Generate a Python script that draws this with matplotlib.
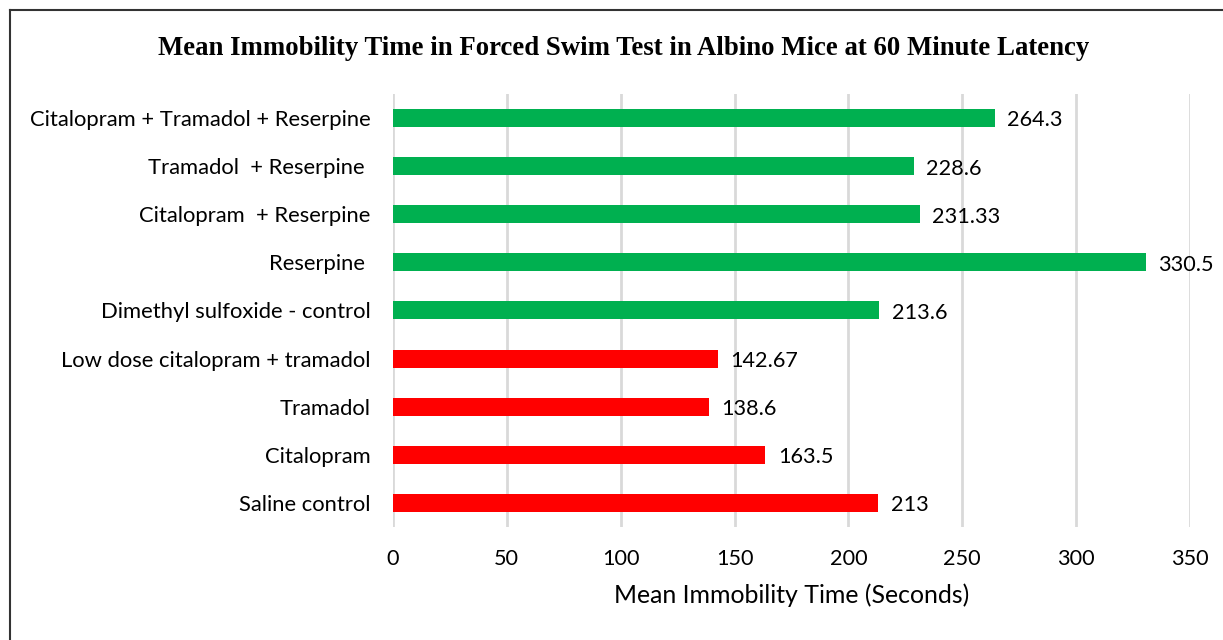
import matplotlib
matplotlib.use("Agg")
import matplotlib.pyplot as plt
from matplotlib.lines import Line2D

categories = [
    "Saline control",
    "Citalopram",
    "Tramadol",
    "Low dose citalopram + tramadol",
    "Dimethyl sulfoxide - control",
    "Reserpine ",
    "Citalopram  + Reserpine",
    "Tramadol  + Reserpine ",
    "Citalopram + Tramadol + Reserpine",
]
values = [213, 163.5, 138.6, 142.67, 213.6, 330.5, 231.33, 228.6, 264.3]
value_labels = ["213", "163.5", "138.6", "142.67", "213.6", "330.5", "231.33", "228.6", "264.3"]
colors = ["#FF0000"] * 4 + ["#00B050"] * 5
xticks = [0, 50, 100, 150, 200, 250, 300, 350]

fig = plt.figure(figsize=(12.23, 6.4), dpi=100)
ax = fig.add_axes([0.3213, 0.1766, 0.6517, 0.6766])

y = list(range(len(categories)))
ax.barh(y, values, height=0.375, color=colors, zorder=3)
for yi, v, lab in zip(y, values, value_labels):
    ax.text(v + 5.5, yi - 0.05, lab, va="center", ha="left", fontsize=15.6,
            family="Lato", color="#000000")

ax.set_xlim(0, 350)
ax.set_ylim(-0.5, len(categories) - 0.5)
ax.set_xticks(xticks)
ax.set_xticklabels([str(t) for t in xticks], family="Lato", fontsize=15.6)
ax.set_yticks(y)
ax.set_yticklabels(categories, family="Lato", fontsize=15.8)
ax.tick_params(axis="both", length=0)
ax.tick_params(axis="x", pad=16)
ax.tick_params(axis="y", pad=16)
ax.grid(axis="x", color="#D9D9D9", linewidth=2, zorder=0)
for s in ax.spines.values():
    s.set_visible(False)
ax.set_xlabel("Mean Immobility Time (Seconds)", family="Lato", fontsize=17.9, labelpad=10)

fig.text(0.510, 0.924, "Mean Immobility Time in Forced Swim Test in Albino Mice at 60 Minute Latency",
         ha="center", va="center", family="Liberation Serif", fontweight="bold", fontsize=19.3)

# outer border (top and left visible)
fig.add_artist(Line2D([10 / 1223, 1.0], [1 - 10 / 640, 1 - 10 / 640], transform=fig.transFigure,
                      color="#333333", linewidth=1.5))
fig.add_artist(Line2D([10 / 1223, 10 / 1223], [0.0, 1 - 10 / 640], transform=fig.transFigure,
                      color="#333333", linewidth=1.5))

fig.savefig("out.png", dpi=100)
